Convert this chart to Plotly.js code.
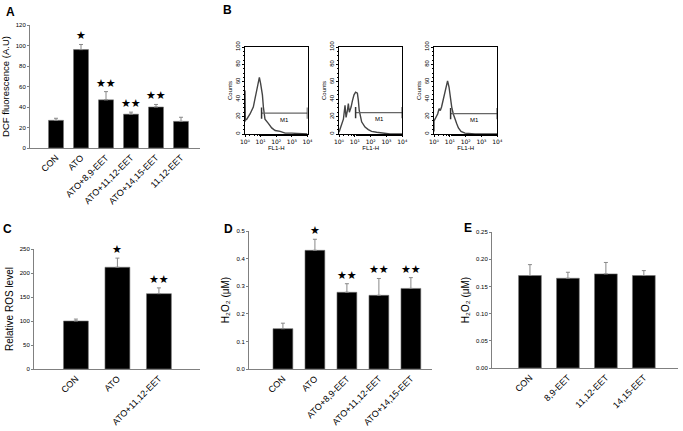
<!DOCTYPE html>
<html>
<head>
<meta charset="utf-8">
<script src="https://cdn.plot.ly/plotly-3.0.1.min.js"></script>
<style>html,body{margin:0;padding:0;background:#fff;}#chart{width:683px;height:431px;}</style>
</head>
<body>
<div id="chart"></div>
<script>
// ---- Panel A: DCF fluorescence ----
const catsA = ['CON', 'ATO', 'ATO+8,9-EET', 'ATO+11,12-EET', 'ATO+14,15-EET', '11,12-EET'];
const valsA = [27, 96, 47, 33, 40, 26];
const errsA = [2, 5, 8, 2, 2.5, 4];
const sigA  = ['', '★', '★★', '★★', '★★', ''];

// ---- Panel C: relative ROS ----
const catsC = ['CON', 'ATO', 'ATO+11,12-EET'];
const valsC = [100, 212, 157];
const errsC = [4, 19, 12];
const sigC  = ['', '★', '★★'];

// ---- Panel D: H2O2 ----
const catsD = ['CON', 'ATO', 'ATO+8,9-EET', 'ATO+11,12-EET', 'ATO+14,15-EET'];
const valsD = [0.146, 0.430, 0.278, 0.267, 0.292];
const errsD = [0.020, 0.040, 0.031, 0.061, 0.039];
const sigD  = ['', '★', '★★', '★★', '★★'];

// ---- Panel E: H2O2 with EETs alone ----
const catsE = ['CON', '8,9-EET', '11,12-EET', '14,15-EET'];
const valsE = [0.170, 0.165, 0.173, 0.170];
const errsE = [0.020, 0.011, 0.021, 0.009];

// ---- Panel B: flow cytometry histograms (FL1-H vs Counts) ----
const histTitles = ['CON', 'ATO', 'ATO+11,12-EET'];
const conFL    = [1.0, 1.0, 1.05, 1.3, 2.1, 3.4, 4.4, 5.6, 7.2, 8.3, 10, 13, 15, 19, 32, 51, 85, 178, 370, 1000, 10000];
const conCnt   = [14, 50, 16, 17, 23, 31, 41, 52, 62, 65, 58, 45, 31, 17, 12, 7, 4, 3, 1, 1, 0];
const atoFL    = [1.0, 1.35, 1.9, 2.4, 2.8, 3.4, 3.9, 4.5, 5.8, 7.2, 8.9, 11.2, 14.5, 16.6, 19, 27, 44, 71, 115, 240, 630, 1660, 10000];
const atoCnt   = [2, 10, 17, 33, 19, 27, 35, 25, 31, 39, 45, 48, 47, 39, 27, 14, 8, 5, 3, 2, 1, 0, 0];
const eetFL    = [1.0, 1.0, 1.15, 1.7, 2.1, 2.5, 3.0, 3.9, 4.9, 6.3, 7.2, 8.9, 10.2, 13.2, 16.6, 21, 27, 35, 51, 91, 390, 10000];
const eetCnt   = [3, 15, 17, 23, 29, 27, 31, 41, 50, 58, 61, 54, 45, 31, 23, 17, 12, 7, 3, 1, 0, 0];
const gateStart = [11.5, 11.2, 11.2];
const gateEnd   = [10000, 10000, 10000];
const gateLevel = [24, 24.5, 23.5];
const gateLabelX = [330, 350, 350];
const gateLabelY = [16, 17, 16];
const flTickVals = [1, 10, 100, 1000, 10000];
const flTickText = ['10⁰', '10¹', '10²', '10³', '10⁴'];

const FONT = 'Liberation Sans, Arial, sans-serif';
const AXC = '#808080';
const traces = [];
const annotations = [];

function addBars(cats, vals, errs, sig, xa, ya, width) {
  traces.push({
    type: 'bar', x: cats, y: vals, xaxis: xa, yaxis: ya, width: width,
    marker: {color: '#000', line: {color: '#777', width: 0.6}},
    error_y: {type: 'data', array: errs, arrayminus: errs.map(() => 0), symmetric: false,
              color: '#888', thickness: 1, width: 2},
    showlegend: false, hoverinfo: 'x+y'
  });
  if (sig) {
    sig.forEach((s, i) => {
      if (!s) return;
      annotations.push({
        x: cats[i], y: vals[i] + errs[i], xref: xa, yref: ya,
        text: s, showarrow: false, yanchor: 'bottom', yshift: 0,
        font: {family: 'DejaVu Sans', size: 11, color: '#000'}
      });
    });
  }
}

addBars(catsA, valsA, errsA, sigA, 'x', 'y', 0.6);
addBars(catsC, valsC, errsC, sigC, 'x2', 'y2', 0.6);
addBars(catsD, valsD, errsD, sigD, 'x3', 'y3', 0.62);
addBars(catsE, valsE, errsE, null, 'x4', 'y4', 0.6);

const histX = [conFL, atoFL, eetFL];
const histY = [conCnt, atoCnt, eetCnt];
for (let k = 0; k < 3; k++) {
  const xa = 'x' + (5 + k), ya = 'y' + (5 + k);
  traces.push({
    type: 'scatter', mode: 'lines', x: histX[k], y: histY[k], xaxis: xa, yaxis: ya,
    line: {color: '#444', width: 1.4}, showlegend: false
  });
  traces.push({
    type: 'scatter', mode: 'lines+markers', x: [gateStart[k], gateEnd[k]], y: [gateLevel[k], gateLevel[k]],
    xaxis: xa, yaxis: ya, line: {color: '#666', width: 1.2},
    marker: {symbol: 'line-ns', size: 8, line: {color: '#333', width: 1.5}}, showlegend: false
  });
  annotations.push({x: Math.log10(gateLabelX[k]), y: gateLabelY[k], xref: xa, yref: ya, text: 'M1',
    showarrow: false, font: {family: FONT, size: 6, color: '#000'}});
  annotations.push({x: 0.5, y: 104, xref: xa + ' domain', yref: ya, text: '<b>' + histTitles[k] + '</b>',
    showarrow: false, yanchor: 'bottom', yshift: 4, font: {family: FONT, size: 10, color: '#000'}});
}

// panel letters
[['A', 4, 3], ['B', 221, 1], ['C', 1, 220], ['D', 222, 220], ['E', 462, 219]].forEach(l => {
  annotations.push({x: l[1] / 683, y: 1 - l[2] / 431, xref: 'paper', yref: 'paper', text: '<b>' + l[0] + '</b>',
    showarrow: false, xanchor: 'left', yanchor: 'top', font: {family: FONT, size: 12, color: '#000'}});
});

function barX(domain, range) {
  return {domain: domain, range: range, type: 'category', showline: true, linecolor: AXC, linewidth: 1,
    ticks: '', tickangle: -45, tickfont: {family: FONT, size: 9, color: '#000'}, showgrid: false,
    zeroline: false, automargin: false, fixedrange: true};
}
function barY(domain, range, dtick, fmt, title, anchor, standoff, tsize) {
  return {domain: domain, range: range, dtick: dtick, tickformat: fmt, showline: true, linecolor: AXC, linewidth: 1,
    ticks: 'outside', ticklen: 2, tickcolor: AXC, tickfont: {family: FONT, size: 6, color: '#000'},
    showgrid: false, zeroline: false, anchor: anchor, automargin: false,
    title: {text: title, font: {family: FONT, size: tsize, color: '#000'}, standoff: standoff}};
}
function flX(domain, anchor) {
  return {domain: domain, type: 'log', range: [0, 4], anchor: anchor, showline: true, mirror: true,
    linecolor: '#000', linewidth: 1, ticks: 'outside', ticklen: 2, tickcolor: '#000',
    tickvals: flTickVals, ticktext: flTickText, tickfont: {family: 'DejaVu Sans', size: 6, color: '#000'},
    minor: {ticks: 'outside', ticklen: 1, tickcolor: '#000'},
    showgrid: false, zeroline: false, automargin: false,
    title: {text: 'FL1-H', font: {family: FONT, size: 6, color: '#000'}, standoff: 1}};
}
function flY(domain, anchor) {
  return {domain: domain, range: [0, 100], dtick: 20, anchor: anchor, showline: true, mirror: true,
    linecolor: '#000', linewidth: 1, ticks: 'outside', ticklen: 2, tickcolor: '#000', tickangle: -90,
    minor: {ticks: 'outside', ticklen: 1, dtick: 5, tickcolor: '#000'},
    tickfont: {family: FONT, size: 6, color: '#000'}, showgrid: false, zeroline: false, automargin: false,
    title: {text: 'Counts', font: {family: FONT, size: 6, color: '#000'}, standoff: 1}};
}

const W = 683, H = 431;
const px = (a, b) => [a / W, b / W];
const py = (top, bottom) => [1 - bottom / H, 1 - top / H];

const layout = {
  width: W, height: H, autosize: false, margin: {l: 0, r: 0, t: 0, b: 0},
  paper_bgcolor: '#fff', plot_bgcolor: 'rgba(0,0,0,0)', showlegend: false,
  font: {family: FONT, color: '#000'},
  xaxis: Object.assign(barX(px(30, 200), [-1.04, 5.76]), {anchor: 'y'}),
  yaxis: barY(py(25, 148), [0, 120], 20, 'd', 'DCF fluorescence (A.U)', 'x', 4, 9.5),
  xaxis2: Object.assign(barX(px(34, 200), [-1.01, 2.99]), {anchor: 'y2'}),
  yaxis2: barY(py(249, 369), [0, 250], 50, 'd', 'Relative ROS level', 'x2', 4, 10),
  xaxis3: Object.assign(barX(px(249, 432), [-1.06, 4.66]), {anchor: 'y3'}),
  yaxis3: barY(py(231, 369), [0, 0.5], 0.1, '.1f', 'H₂O₂ (μM)', 'x3', 4, 10),
  xaxis4: Object.assign(barX(px(492, 678), [-1.0, 3.9]), {anchor: 'y4'}),
  yaxis4: barY(py(232, 368), [0, 0.25], 0.05, '.2f', 'H₂O₂ (μM)', 'x4', 4, 10),
  xaxis5: flX(px(245, 307.5), 'y5'),
  yaxis5: flY(py(47, 134), 'x5'),
  xaxis6: flX(px(339, 402.3), 'y6'),
  yaxis6: flY(py(47, 134), 'x6'),
  xaxis7: flX(px(434, 497.3), 'y7'),
  yaxis7: flY(py(47, 134), 'x7'),
  annotations: annotations
};

Plotly.newPlot('chart', traces, layout, {displayModeBar: false, staticPlot: true});
</script>
</body>
</html>
